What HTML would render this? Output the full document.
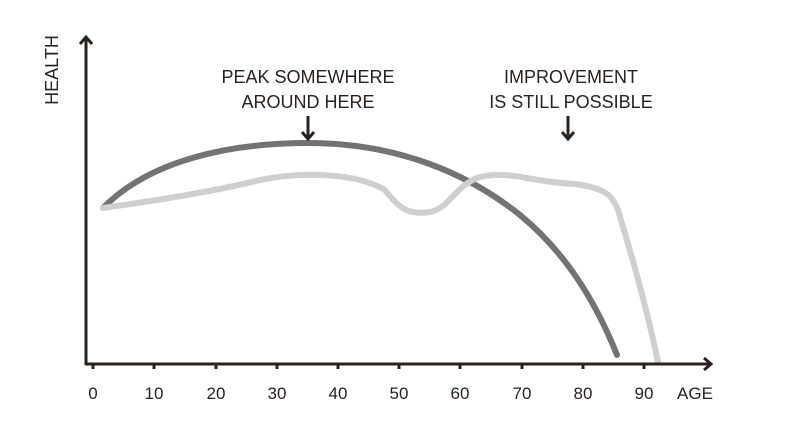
<!DOCTYPE html>
<html><head><meta charset="utf-8"><style>html,body{margin:0;padding:0;background:#fff}svg{display:block}</style></head>
<body>
<svg width="800" height="429" viewBox="0 0 800 429" xmlns="http://www.w3.org/2000/svg" font-family="Liberation Sans, sans-serif" fill="#2a221e">
<path d="M103,208 C150,160 230,143 308,143 C400,143 470,175 520,215 C565,252 595,300 617,355" fill="none" stroke="#747272" stroke-width="6" stroke-linecap="round"/>
<path d="M103,208 C160,200 220,190 260,180 C310,170 360,175 385,190 C400,210 410,215 430,212 C450,208 455,185 480,177 C510,170 530,182 575,184 C605,188 612,195 618,210 C630,250 645,300 658,362" fill="none" stroke="#cfcfcf" stroke-width="6" stroke-linecap="round" stroke-linejoin="round"/>
<g stroke="#2a221e" stroke-width="3" fill="none">
<line x1="86" y1="38" x2="86" y2="365"/>
<line x1="85" y1="364" x2="710" y2="364"/>
<polyline points="80,44 86,37 92,44"/>
<polyline points="704,358 711,364 704,370"/>
<line x1="308" y1="116" x2="308" y2="139"/><polyline points="302,132 308,139 314,132"/>
<line x1="568" y1="116" x2="568" y2="139"/><polyline points="562,132 568,139 574,132"/>
</g>
<g stroke="#2a221e" stroke-width="3">
<line x1="93" y1="364" x2="93" y2="369"/><line x1="154" y1="364" x2="154" y2="369"/><line x1="216" y1="364" x2="216" y2="369"/><line x1="277" y1="364" x2="277" y2="369"/><line x1="338" y1="364" x2="338" y2="369"/><line x1="399" y1="364" x2="399" y2="369"/><line x1="460" y1="364" x2="460" y2="369"/><line x1="522" y1="364" x2="522" y2="369"/><line x1="583" y1="364" x2="583" y2="369"/><line x1="644" y1="364" x2="644" y2="369"/>
</g>
<g font-size="17" text-anchor="middle">
<text x="93" y="399">0</text><text x="154" y="399">10</text><text x="216" y="399">20</text><text x="277" y="399">30</text><text x="338" y="399">40</text><text x="399" y="399">50</text><text x="460" y="399">60</text><text x="522" y="399">70</text><text x="583" y="399">80</text><text x="644" y="399">90</text><text x="695" y="399">AGE</text>
</g>
<g font-size="18" text-anchor="middle">
<text x="308" y="83">PEAK SOMEWHERE</text><text x="308" y="108">AROUND HERE</text>
<text x="571" y="83">IMPROVEMENT</text><text x="571" y="108">IS STILL POSSIBLE</text>
</g>
<text x="0" y="0" font-size="18" text-anchor="middle" transform="translate(58,70) rotate(-90)">HEALTH</text>
</svg>
</body></html>
